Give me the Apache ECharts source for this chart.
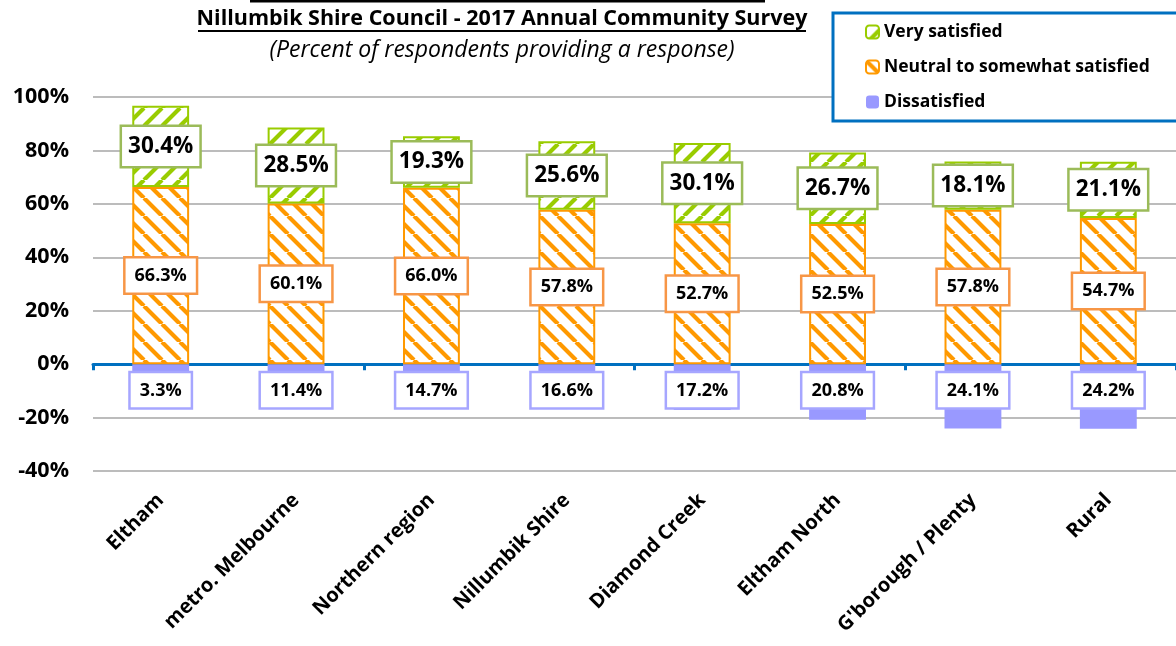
<!DOCTYPE html>
<html>
<head>
<meta charset="utf-8">
<script src="https://cdn.jsdelivr.net/npm/echarts@6/dist/echarts.min.js"></script>
<style>
html,body{margin:0;padding:0;background:#fff;}
#chart{width:1176px;height:646px;}
</style>
</head>
<body>
<div id="chart"></div>
<script>
const categories = ['Eltham', 'metro. Melbourne', 'Northern region', 'Nillumbik Shire', 'Diamond Creek', 'Eltham North', "G'borough / Plenty", 'Rural'];
const verySatisfied = [30.4, 28.5, 19.3, 25.6, 30.1, 26.7, 18.1, 21.1];
const neutral = [66.3, 60.1, 66.0, 57.8, 52.7, 52.5, 57.8, 54.7];
const dissatisfied = [3.3, 11.4, 14.7, 16.6, 17.2, 20.8, 24.1, 24.2];
const yTicks = [-40, -20, 0, 20, 40, 60, 80, 100];

const FONT = '"Open Sans", Lato, sans-serif';

function makePattern(color, dir) {
  const s = 18;
  const c = document.createElement('canvas');
  c.width = s; c.height = s;
  const ctx = c.getContext('2d');
  ctx.fillStyle = '#fff';
  ctx.fillRect(0, 0, s, s);
  ctx.strokeStyle = color;
  ctx.lineWidth = 4.2;
  ctx.beginPath();
  [-s, 0, s].forEach(function (o) {
    if (dir === 'back') { ctx.moveTo(o, 0); ctx.lineTo(o + s, s); }
    else { ctx.moveTo(o, s); ctx.lineTo(o + s, 0); }
  });
  ctx.stroke();
  return { image: c, repeat: 'repeat' };
}

const chart = echarts.init(document.getElementById('chart'), null, { renderer: 'canvas' });

function pct(p) { return Math.abs(p.value).toFixed(1) + '%'; }

const option = {
  animation: false,
  textStyle: { fontFamily: FONT },
  graphic: [
    { type: 'rect', shape: { x: 250, y: 0, width: 515, height: 2.5 }, style: { fill: '#000' } },
    { type: 'text', x: 502, y: 19, style: { text: 'Nillumbik Shire Council - 2017 Annual Community Survey', textAlign: 'center', textVerticalAlign: 'middle', font: 'bold 21.5px ' + FONT, fill: '#000' } },
    { type: 'rect', shape: { x: 198, y: 30, width: 608, height: 2 }, style: { fill: '#000' } },
    { type: 'text', x: 502, y: 50, style: { text: '(Percent of respondents providing a response)', textAlign: 'center', textVerticalAlign: 'middle', font: 'italic 23px ' + FONT, fill: '#000' } }
  ],
  legend: {
    orient: 'vertical',
    left: 833,
    top: 13,
    data: ['Very satisfied', 'Neutral to somewhat satisfied', 'Dissatisfied'],
    itemWidth: 13,
    itemHeight: 13,
    itemGap: 17,
    padding: [10, 80, 10, 32],
    borderColor: '#0070C0',
    borderWidth: 3,
    backgroundColor: '#fff',
    textStyle: { fontSize: 17.5, fontWeight: 'bold', color: '#000', fontFamily: FONT }
  },
  grid: { left: 93, right: 0, top: 97, bottom: 175, containLabel: false },
  xAxis: [
    {
      type: 'category',
      data: categories,
      position: 'bottom',
      axisLine: { show: false, onZero: false },
      axisTick: { show: false },
      axisLabel: { rotate: 45, interval: 0, margin: 26, fontSize: 20, fontWeight: 'bold', color: '#000', fontFamily: FONT }
    },
    {
      type: 'category',
      data: categories,
      position: 'top',
      axisLine: { show: true, onZero: true, lineStyle: { color: '#0070C0', width: 3 } },
      axisTick: { show: true, inside: true, length: 6, lineStyle: { color: '#0070C0', width: 3 } },
      axisLabel: { show: false }
    }
  ],
  yAxis: {
    type: 'value',
    min: yTicks[0],
    max: yTicks[yTicks.length - 1],
    interval: 20,
    axisLine: { show: false },
    axisTick: { show: false },
    axisLabel: { formatter: '{value}%', margin: 24, fontSize: 21.5, fontWeight: 'bold', color: '#000', fontFamily: FONT },
    splitLine: { lineStyle: { color: '#A6A6A6', width: 1.5 } }
  },
  series: [
    {
      name: 'Dissatisfied',
      type: 'bar',
      stack: 'total',
      xAxisIndex: 0,
      barWidth: '42%',
      data: dissatisfied.map(function (v) { return -v; }),
      itemStyle: { color: '#9999FF' },
      label: {
        show: true, position: 'insideTop', distance: 9, formatter: pct,
        fontSize: 18, fontWeight: 'bold', color: '#000', fontFamily: FONT,
        backgroundColor: '#fff', borderColor: '#A6A6FF', borderWidth: 2.5,
        padding: [9, 9, 7, 9]
      }
    },
    {
      name: 'Neutral to somewhat satisfied',
      type: 'bar',
      stack: 'total',
      xAxisIndex: 0,
      data: neutral,
      itemStyle: { color: makePattern('#FF9900', 'back'), borderColor: '#FF9900', borderWidth: 2 },
      label: {
        show: true, position: 'inside', formatter: pct,
        fontSize: 18, fontWeight: 'bold', color: '#000', fontFamily: FONT,
        backgroundColor: '#fff', borderColor: '#F79646', borderWidth: 2.5,
        padding: [9, 9, 7, 9]
      }
    },
    {
      name: 'Very satisfied',
      type: 'bar',
      stack: 'total',
      xAxisIndex: 0,
      data: verySatisfied,
      itemStyle: { color: makePattern('#99CC00', 'fwd'), borderColor: '#99CC00', borderWidth: 2 },
      label: {
        show: true, position: 'inside', formatter: pct,
        fontSize: 22.5, fontWeight: 'bold', color: '#000', fontFamily: FONT,
        backgroundColor: '#fff', borderColor: '#9BBB59', borderWidth: 2.5,
        padding: [9, 6, 7, 6]
      }
    }
  ]
};
chart.setOption(option);
</script>
</body>
</html>
